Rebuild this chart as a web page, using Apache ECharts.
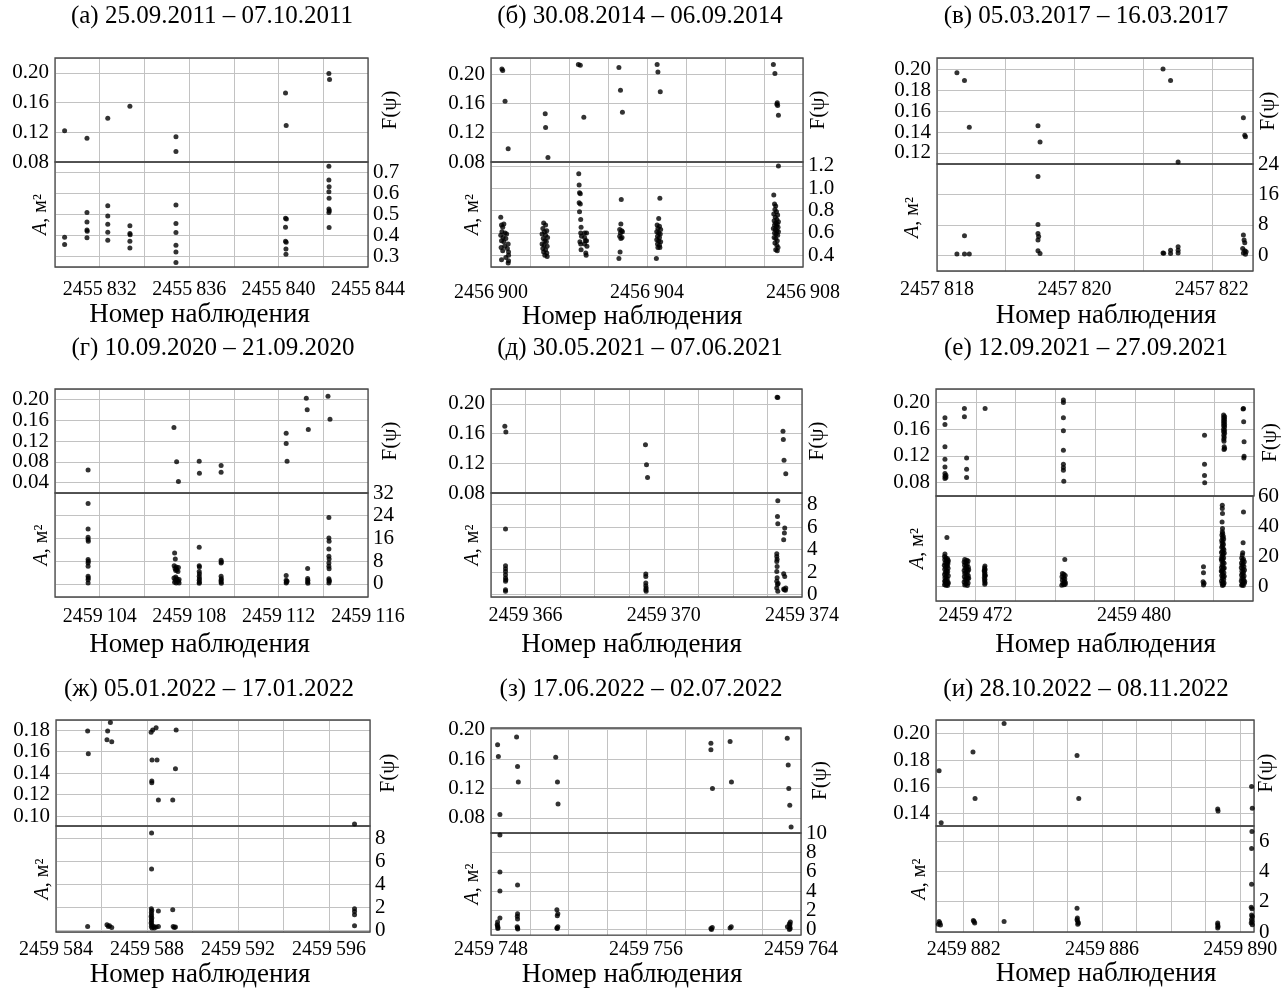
<!DOCTYPE html>
<html><head><meta charset="utf-8">
<script src="https://cdn.jsdelivr.net/npm/echarts@6/dist/echarts.min.js"></script>
<style>html,body{margin:0;padding:0;background:#fff}#c{width:1282px;height:989px}</style>
</head><body><div id="c"></div>
<script>
const FONT = '"Liberation Serif","Times New Roman",serif';

const titles = ['(а) 25.09.2011 – 07.10.2011','(б) 30.08.2014 – 06.09.2014','(в) 05.03.2017 – 16.03.2017',
  '(г) 10.09.2020 – 21.09.2020','(д) 30.05.2021 – 07.06.2021','(е) 12.09.2021 – 27.09.2021',
  '(ж) 05.01.2022 – 17.01.2022','(з) 17.06.2022 – 02.07.2022','(и) 28.10.2022 – 08.11.2022'];

// ---- (а)
const xTicksA = [2455832,2455836,2455840,2455844];
const fTicksA = [0.08,0.12,0.16,0.20];
const aTicksA = [0.3,0.4,0.5,0.6,0.7];
const fA = [[2455830.43,0.122],[2455831.43,0.112],[2455832.36,0.139],[2455833.35,0.155],[2455835.41,0.114],[2455835.41,0.094],[2455840.31,0.173],[2455840.34,0.129],[2455842.25,0.199],[2455842.28,0.191]];
const aA = [[2455830.43,0.392],[2455830.43,0.357],
 [2455831.43,0.509],[2455831.43,0.464],[2455831.43,0.426],[2455831.44,0.420],[2455831.43,0.389],
 [2455832.36,0.542],[2455832.36,0.493],[2455832.36,0.453],[2455832.36,0.415],[2455832.36,0.377],
 [2455833.35,0.447],[2455833.35,0.409],[2455833.36,0.403],[2455833.35,0.373],[2455833.35,0.340],
 [2455835.41,0.545],[2455835.41,0.457],[2455835.41,0.414],[2455835.41,0.354],[2455835.41,0.322],[2455835.41,0.272],
 [2455840.31,0.482],[2455840.35,0.479],[2455840.31,0.439],[2455840.31,0.373],[2455840.34,0.368],[2455840.33,0.336],[2455840.33,0.311],
 [2455842.25,0.730],[2455842.25,0.664],[2455842.26,0.632],[2455842.25,0.608],[2455842.26,0.577],[2455842.25,0.526],[2455842.27,0.518],[2455842.25,0.509],[2455842.26,0.438]];

// ---- (б)
const xTicksB = [2456900,2456904,2456908];
const fTicksB = [0.08,0.12,0.16,0.20];
const aTicksB = [0.4,0.6,0.8,1.0,1.2];
const fB = [[2456900.28,0.207],[2456900.30,0.205],[2456900.36,0.163],[2456900.44,0.098],
 [2456901.39,0.146],[2456901.40,0.127],[2456901.46,0.086],
 [2456902.24,0.213],[2456902.29,0.212],[2456902.38,0.141],
 [2456903.28,0.209],[2456903.32,0.178],[2456903.37,0.148],
 [2456904.26,0.213],[2456904.28,0.203],[2456904.34,0.176],
 [2456907.24,0.213],[2456907.28,0.201],[2456907.34,0.161],[2456907.33,0.159],[2456907.35,0.157],[2456907.37,0.144]];
const aB = [[2456900.25,0.74],[2456900.27,0.67],[2456900.30,0.65],[2456900.33,0.68],[2456900.28,0.61],[2456900.25,0.58],[2456900.31,0.56],[2456900.36,0.60],[2456900.40,0.59],[2456900.27,0.53],[2456900.33,0.52],[2456900.38,0.55],[2456900.44,0.50],[2456900.26,0.47],[2456900.35,0.48],[2456900.42,0.46],[2456900.30,0.44],[2456900.45,0.43],[2456900.27,0.36],[2456900.38,0.38],[2456900.45,0.40],[2456900.45,0.35],[2456900.44,0.33],
 [2456901.35,0.69],[2456901.40,0.67],[2456901.33,0.64],[2456901.43,0.62],[2456901.37,0.61],[2456901.31,0.59],[2456901.40,0.58],[2456901.45,0.56],[2456901.34,0.55],[2456901.38,0.53],[2456901.42,0.52],[2456901.31,0.50],[2456901.36,0.49],[2456901.44,0.48],[2456901.33,0.46],[2456901.40,0.45],[2456901.35,0.43],[2456901.43,0.42],[2456901.38,0.40],[2456901.44,0.39],
 [2456902.25,1.13],[2456902.26,1.03],[2456902.27,0.96],[2456902.29,0.95],[2456902.26,0.87],[2456902.29,0.86],[2456902.27,0.79],[2456902.30,0.72],[2456902.31,0.65],[2456902.30,0.60],[2456902.32,0.57],[2456902.28,0.52],[2456902.30,0.50],[2456902.31,0.45],[2456902.40,0.60],[2456902.40,0.56],[2456902.42,0.53],[2456902.40,0.50],[2456902.43,0.42],[2456902.45,0.60],[2456902.45,0.53],[2456902.46,0.48],[2456902.44,0.40],
 [2456903.34,0.90],[2456903.33,0.68],[2456903.30,0.63],[2456903.35,0.62],[2456903.32,0.60],[2456903.37,0.61],[2456903.30,0.57],[2456903.36,0.56],[2456903.33,0.55],[2456903.31,0.43],[2456903.28,0.37],
 [2456904.33,0.91],[2456904.30,0.73],[2456904.26,0.67],[2456904.32,0.66],[2456904.28,0.64],[2456904.35,0.63],[2456904.25,0.61],[2456904.30,0.60],[2456904.34,0.59],[2456904.27,0.57],[2456904.32,0.56],[2456904.25,0.54],[2456904.30,0.53],[2456904.35,0.52],[2456904.27,0.50],[2456904.32,0.49],[2456904.28,0.47],[2456904.33,0.47],[2456904.24,0.37],
 [2456907.37,1.20],[2456907.25,0.94],[2456907.27,0.86],[2456907.30,0.84],[2456907.28,0.81],[2456907.32,0.79],[2456907.25,0.77],[2456907.35,0.76],[2456907.29,0.74],[2456907.33,0.72],[2456907.26,0.71],[2456907.37,0.70],[2456907.30,0.69],[2456907.34,0.68],[2456907.27,0.67],[2456907.32,0.66],[2456907.36,0.65],[2456907.24,0.64],[2456907.29,0.63],[2456907.33,0.62],[2456907.37,0.61],[2456907.27,0.60],[2456907.31,0.59],[2456907.35,0.58],[2456907.26,0.56],[2456907.30,0.55],[2456907.34,0.53],[2456907.28,0.51],[2456907.33,0.49],[2456907.36,0.47],[2456907.30,0.45],[2456907.34,0.44]];

// ---- (в)
const xTicksC = [2457818,2457820,2457822];
const fTicksC = [0.12,0.14,0.16,0.18,0.20];
const aTicksC = [0,8,16,24];
const fC = [[2457818.29,0.1965],[2457818.40,0.189],[2457818.47,0.1445],[2457819.47,0.146],[2457819.50,0.1305],[2457821.29,0.200],[2457821.40,0.189],[2457821.51,0.1115],[2457822.46,0.1535],[2457822.48,0.137],[2457822.49,0.1355]];
const aC = [[2457818.29,0.35],[2457818.40,5.1],[2457818.40,0.35],[2457818.47,0.35],[2457819.47,20.7],[2457819.47,8.1],[2457819.47,5.7],[2457819.48,4.9],[2457819.47,4.0],[2457819.47,1.15],[2457819.50,0.44],[2457821.29,0.6],[2457821.30,0.5],[2457821.40,1.3],[2457821.40,0.44],[2457821.51,2.2],[2457821.51,1.3],[2457821.51,0.6],[2457822.46,5.3],[2457822.47,4.0],[2457822.48,3.3],[2457822.45,1.8],[2457822.48,1.15],[2457822.46,0.6],[2457822.49,0.26],[2457822.50,0.9]];

// ---- (г)
const xTicksD = [2459104,2459108,2459112,2459116];
const fTicksD = [0.04,0.08,0.12,0.16,0.20];
const aTicksD = [0,8,16,24,32];
const fD = [[2459103.48,0.064],[2459107.32,0.146],[2459107.44,0.080],[2459107.52,0.042],[2459108.45,0.081],[2459108.46,0.058],[2459109.43,0.073],[2459109.43,0.060],[2459112.34,0.135],[2459112.34,0.115],[2459112.38,0.081],[2459113.24,0.202],[2459113.28,0.180],[2459113.33,0.142],[2459114.21,0.206],[2459114.30,0.162]];
const aD = [[2459103.48,28.3],[2459103.48,19.3],[2459103.48,16.4],[2459103.48,15.6],[2459103.49,15.0],[2459103.48,8.6],[2459103.49,8.0],[2459103.48,7.4],[2459103.48,6.2],[2459103.48,2.7],[2459103.49,2.1],[2459103.48,1.5],[2459103.48,0.35],
 [2459107.35,10.9],[2459107.38,8.8],[2459107.33,6.4],[2459107.42,6.0],[2459107.37,5.4],[2459107.45,5.0],[2459107.40,4.7],[2459107.50,4.4],[2459107.32,2.1],[2459107.45,1.8],[2459107.38,1.3],[2459107.52,0.9],[2459107.35,0.6],[2459107.42,0.35],[2459107.55,1.6],[2459107.55,0.3],[2459107.52,5.8],[2459107.40,2.4],
 [2459108.45,12.9],[2459108.45,6.4],[2459108.46,6.0],[2459108.45,4.4],[2459108.46,3.6],[2459108.45,2.7],[2459108.46,1.9],[2459108.45,1.3],[2459108.46,0.6],[2459108.45,0.2],
 [2459109.43,8.3],[2459109.44,7.7],[2459109.43,7.4],[2459109.43,2.7],[2459109.44,1.8],[2459109.43,1.3],[2459109.43,0.7],[2459109.44,0.2],
 [2459112.34,3.0],[2459112.34,1.3],[2459112.35,0.7],[2459112.34,0.35],[2459112.38,0.9],
 [2459113.30,5.4],[2459113.30,1.9],[2459113.31,1.3],[2459113.30,0.7],[2459113.31,0.2],
 [2459114.25,23.4],[2459114.25,16.2],[2459114.26,15.0],[2459114.25,12.3],[2459114.25,9.7],[2459114.26,8.8],[2459114.25,7.4],[2459114.25,6.2],[2459114.26,5.3],[2459114.25,1.8],[2459114.26,1.3],[2459114.25,0.35],[2459114.27,0.9]];

// ---- (д)
const xTicksE = [2459366,2459370,2459374];
const fTicksE = [0.08,0.12,0.16,0.20];
const aTicksE = [0,2,4,6,8];
const fE = [[2459365.40,0.170],[2459365.43,0.162],[2459369.47,0.145],[2459369.50,0.118],[2459369.53,0.101],[2459373.28,0.209],[2459373.30,0.2085],[2459373.45,0.163],[2459373.46,0.152],[2459373.48,0.124],[2459373.53,0.106]];
const aE = [[2459365.42,5.84],[2459365.42,2.58],[2459365.42,2.31],[2459365.42,2.07],[2459365.42,1.78],[2459365.42,1.48],[2459365.43,1.33],[2459365.42,1.19],[2459365.42,0.44],[2459365.42,0.30],
 [2459369.48,1.84],[2459369.48,1.63],[2459369.48,1.04],[2459369.48,0.80],[2459369.49,0.59],[2459369.48,0.44],[2459369.49,0.30],
 [2459373.30,8.36],[2459373.29,6.96],[2459373.30,6.31],[2459373.50,5.93],[2459373.49,5.48],[2459373.47,4.89],[2459373.27,3.64],[2459373.27,3.40],[2459373.28,3.15],[2459373.27,2.95],[2459373.28,2.52],[2459373.27,2.07],[2459373.47,1.87],[2459373.50,1.63],[2459373.28,1.50],[2459373.27,1.20],[2459373.29,0.90],[2459373.27,0.60],[2459373.49,0.44],[2459373.52,0.40],[2459373.53,0.60],[2459373.30,0.30],[2459373.47,0.50],[2459373.31,1.00]];

// ---- (е)
const xTicksF = [2459472,2459480];
const fTicksF = [0.08,0.12,0.16,0.20];
const aTicksF = [0,20,40,60];
const fF = [[2459470.45,0.177],[2459470.45,0.167],[2459470.45,0.1335],[2459470.45,0.115],[2459470.45,0.1035],[2459470.45,0.0935],[2459470.45,0.0895],[2459470.45,0.086],[2459470.50,0.091],[2459470.50,0.0875],
 [2459471.43,0.191],[2459471.43,0.1785],[2459471.54,0.117],[2459471.54,0.100],[2459471.54,0.0875],[2459472.47,0.191],
 [2459476.41,0.2035],[2459476.41,0.200],[2459476.41,0.177],[2459476.41,0.1575],[2459476.41,0.1285],[2459476.41,0.1075],[2459476.41,0.1025],[2459476.41,0.0985],[2459476.43,0.082],
 [2459483.51,0.151],[2459483.51,0.1075],[2459483.51,0.0905],[2459483.52,0.080],
 [2459484.47,0.181],[2459484.52,0.179],[2459484.47,0.177],[2459484.52,0.175],[2459484.47,0.173],[2459484.52,0.171],[2459484.47,0.169],[2459484.52,0.167],[2459484.47,0.165],[2459484.52,0.163],[2459484.47,0.160],[2459484.52,0.158],[2459484.47,0.156],[2459484.52,0.154],[2459484.48,0.151],[2459484.50,0.148],[2459484.48,0.145],[2459484.49,0.142],[2459484.50,0.1335],[2459484.49,0.1295],[2459484.52,0.131],
 [2459485.47,0.191],[2459485.45,0.190],[2459485.48,0.171],[2459485.50,0.141],[2459485.50,0.1195],[2459485.49,0.117]];
const aF = [[2459470.55,32.3],[2459470.45,21.3],[2459470.43,19.6],[2459470.50,18.9],[2459470.58,18.2],[2459470.44,17.5],[2459470.52,16.8],[2459470.60,16.1],[2459470.46,15.4],[2459470.54,14.6],[2459470.42,13.9],[2459470.57,13.2],[2459470.48,12.5],[2459470.61,11.8],[2459470.44,11.1],[2459470.53,10.4],[2459470.59,9.7],[2459470.47,9.0],[2459470.55,8.3],[2459470.43,7.6],[2459470.62,6.9],[2459470.50,6.2],[2459470.45,5.5],[2459470.57,4.8],[2459470.52,4.1],[2459470.44,3.4],[2459470.60,2.7],[2459470.48,2.0],[2459470.55,1.4],[2459470.43,0.8],[2459470.58,0.3],[2459470.50,0.5],[2459470.62,1.9],[2459470.46,3.0],[2459470.60,14.8],[2459470.62,17.0],
 [2459471.45,17.7],[2459471.55,17.2],[2459471.62,16.6],[2459471.42,16.0],[2459471.50,15.3],[2459471.58,14.6],[2459471.44,13.9],[2459471.53,13.2],[2459471.63,12.5],[2459471.47,11.8],[2459471.56,11.1],[2459471.42,10.4],[2459471.60,9.7],[2459471.50,9.0],[2459471.45,8.3],[2459471.57,7.6],[2459471.63,6.9],[2459471.43,6.2],[2459471.52,5.5],[2459471.60,4.8],[2459471.47,4.1],[2459471.55,3.4],[2459471.42,2.7],[2459471.62,2.0],[2459471.50,1.3],[2459471.45,0.6],[2459471.58,0.3],[2459471.65,10.8],[2459471.65,5.2],
 [2459472.47,13.3],[2459472.45,12.1],[2459472.48,11.0],[2459472.44,9.9],[2459472.47,8.8],[2459472.45,7.7],[2459472.48,6.6],[2459472.44,5.5],[2459472.47,4.4],[2459472.45,3.3],[2459472.48,2.2],[2459472.46,1.2],[2459472.44,10.5],[2459472.48,7.2],
 [2459476.50,17.7],[2459476.38,8.4],[2459476.45,7.9],[2459476.52,7.0],[2459476.36,6.2],[2459476.44,5.5],[2459476.50,4.6],[2459476.38,3.8],[2459476.47,3.0],[2459476.53,2.3],[2459476.40,1.6],[2459476.46,0.9],[2459476.35,0.5],[2459476.52,1.2],
 [2459483.50,12.8],[2459483.50,8.9],[2459483.48,2.9],[2459483.53,1.8],[2459483.50,0.7],
 [2459484.45,53.8],[2459484.45,51.6],[2459484.46,48.3],[2459484.44,42.7],[2459484.46,38.3],[2459484.45,36.1],[2459484.47,35.0],
 [2459484.43,34.0],[2459484.50,33.1],[2459484.46,32.2],[2459484.52,31.3],[2459484.42,30.4],[2459484.48,29.5],[2459484.44,28.6],[2459484.51,27.7],[2459484.46,26.8],[2459484.42,25.9],[2459484.49,25.0],[2459484.53,24.1],[2459484.45,23.2],[2459484.41,22.3],[2459484.50,21.4],[2459484.47,20.5],[2459484.43,19.6],[2459484.52,18.7],[2459484.46,17.8],[2459484.42,16.9],[2459484.49,16.0],[2459484.54,15.1],[2459484.44,14.2],[2459484.48,13.3],[2459484.41,12.4],[2459484.51,11.5],[2459484.46,10.6],[2459484.43,9.7],[2459484.53,8.8],[2459484.47,7.9],[2459484.42,7.0],[2459484.50,6.1],[2459484.45,5.2],[2459484.52,4.3],[2459484.41,3.4],[2459484.48,2.5],[2459484.44,1.6],[2459484.51,0.8],[2459484.46,0.3],[2459484.54,2.0],[2459484.55,6.5],[2459484.40,10.0],[2459484.55,12.0],[2459484.40,18.0],[2459484.55,22.0],
 [2459485.52,49.4],[2459485.50,28.8],[2459485.48,22.2],[2459485.46,20.6],[2459485.43,18.6],[2459485.52,17.9],[2459485.47,17.0],[2459485.56,16.2],[2459485.42,15.4],[2459485.50,14.6],[2459485.45,13.8],[2459485.54,13.0],[2459485.41,12.2],[2459485.49,11.4],[2459485.57,10.6],[2459485.44,9.8],[2459485.52,9.0],[2459485.47,8.2],[2459485.42,7.4],[2459485.55,6.6],[2459485.49,5.8],[2459485.44,5.0],[2459485.53,4.2],[2459485.41,3.4],[2459485.48,2.6],[2459485.56,1.8],[2459485.45,1.0],[2459485.51,0.4],[2459485.58,3.0],[2459485.43,0.5]];

// ---- (ж)
const xTicksG = [2459584,2459588,2459592,2459596];
const fTicksG = [0.10,0.12,0.14,0.16,0.18];
const aTicksG = [0,2,4,6,8];
const fG = [[2459585.39,0.179],[2459585.42,0.158],[2459586.27,0.179],[2459586.39,0.187],[2459586.24,0.171],[2459586.45,0.169],[2459588.18,0.178],[2459588.25,0.180],[2459588.40,0.182],[2459588.22,0.152],[2459588.44,0.152],[2459588.21,0.1325],[2459588.21,0.131],[2459588.50,0.115],[2459589.13,0.115],[2459589.25,0.144],[2459589.28,0.180],[2459597.12,0.0925]];
const aG = [[2459585.39,0.35],[2459586.24,0.49],[2459586.30,0.35],[2459586.45,0.26],[2459586.35,0.40],
 [2459588.20,8.5],[2459588.20,5.35],[2459588.19,1.88],[2459588.21,1.73],[2459588.19,1.56],[2459588.20,1.36],[2459588.18,1.21],[2459588.21,1.07],[2459588.19,0.92],[2459588.20,0.78],[2459588.18,0.64],[2459588.21,0.49],[2459588.19,0.35],[2459588.22,0.20],[2459588.30,0.35],[2459588.32,0.20],[2459588.40,0.30],
 [2459588.50,1.70],[2459588.50,0.35],[2459589.13,1.79],[2459589.15,0.35],[2459589.25,0.30],[2459589.20,0.25],
 [2459597.12,1.88],[2459597.12,1.65],[2459597.12,1.36],[2459597.12,0.40]];

// ---- (з)
const xTicksH = [2459748,2459756,2459764];
const fTicksH = [0.08,0.12,0.16,0.20];
const aTicksH = [0,2,4,6,8,10];
const fH = [[2459748.34,0.1794],[2459748.38,0.1634],[2459748.46,0.0846],[2459749.32,0.190],[2459749.37,0.150],[2459749.41,0.129],[2459751.34,0.1625],[2459751.43,0.129],[2459751.46,0.099],[2459759.35,0.1817],[2459759.35,0.1726],[2459759.43,0.120],[2459760.34,0.184],[2459760.41,0.129],[2459763.29,0.1885],[2459763.34,0.152],[2459763.37,0.120],[2459763.42,0.0973],[2459763.49,0.0677]];
const aH = [[2459748.46,9.83],[2459748.46,5.99],[2459748.46,4.0],[2459748.46,1.2],[2459748.34,0.79],[2459748.34,0.4],[2459748.36,0.2],[2459748.32,0.5],[2459748.35,0.1],
 [2459749.37,4.62],[2459749.37,1.64],[2459749.36,1.37],[2459749.37,1.1],[2459749.37,0.17],[2459749.38,0.05],[2459749.35,0.3],
 [2459751.40,2.05],[2459751.45,1.64],[2459751.42,1.44],[2459751.40,0.17],[2459751.45,0.3],[2459751.42,0.1],
 [2459759.35,0.1],[2459759.42,0.2],[2459759.38,0.0],[2459760.34,0.17],[2459760.40,0.3],
 [2459763.45,0.79],[2459763.43,0.51],[2459763.42,0.27],[2459763.44,0.1],[2459763.40,0.0],[2459763.40,0.6],[2459763.30,0.3]];

// ---- (и)
const xTicksI = [2459882,2459886,2459890];
const fTicksI = [0.14,0.16,0.18,0.20];
const aTicksI = [0,2,4,6];
const fI = [[2459881.29,0.172],[2459881.35,0.1333],[2459882.27,0.186],[2459882.33,0.1513],[2459883.17,0.2073],[2459885.28,0.1835],[2459885.33,0.1513],[2459889.35,0.1435],[2459889.36,0.142],[2459890.33,0.1603],[2459890.35,0.144]];
const aI = [[2459881.29,0.70],[2459881.31,0.59],[2459881.27,0.52],[2459881.33,0.46],[2459882.28,0.76],[2459882.30,0.70],[2459882.32,0.59],[2459883.17,0.70],
 [2459885.28,1.57],[2459885.29,0.92],[2459885.28,0.81],[2459885.30,0.70],[2459885.32,0.59],[2459885.30,0.52],
 [2459889.35,0.59],[2459889.35,0.48],[2459889.36,0.37],[2459889.35,0.26],
 [2459890.34,6.63],[2459890.33,5.52],[2459890.33,3.16],[2459890.32,1.64],[2459890.34,1.53],[2459890.33,1.13],[2459890.35,1.03],[2459890.33,0.85],[2459890.34,0.70],[2459890.32,0.59],[2459890.35,0.48]];

const panels = [
 {f:fA,a:aA,xt:xTicksA,ft:fTicksA,at:aTicksA},{f:fB,a:aB,xt:xTicksB,ft:fTicksB,at:aTicksB},{f:fC,a:aC,xt:xTicksC,ft:fTicksC,at:aTicksC},
 {f:fD,a:aD,xt:xTicksD,ft:fTicksD,at:aTicksD},{f:fE,a:aE,xt:xTicksE,ft:fTicksE,at:aTicksE},{f:fF,a:aF,xt:xTicksF,ft:fTicksF,at:aTicksF},
 {f:fG,a:aG,xt:xTicksG,ft:fTicksG,at:aTicksG},{f:fH,a:aH,xt:xTicksH,ft:fTicksH,at:aTicksH},{f:fI,a:aI,xt:xTicksI,ft:fTicksI,at:aTicksI}];

// layout: box [left,right,top,divider,bottom], title centre, axis ranges [min,max,step]
const layout = [
 {box:[55,368,58,162,267], tx:212, ty:16, x:[2455830,2455844,2], f:[0.08,0.22,0.04], a:[0.25,0.75,0.1], ad:1, gA:4, gF:12, lm:13, ng:34, ns:-12},
 {box:[491,803,58,162,267], tx:640, ty:16, x:[2456900,2456908,1], f:[0.08,0.222,0.04], a:[0.295,1.235,0.2], ad:1, gA:8, gF:5, lm:16, ng:36, ns:-15},
 {box:[937,1253,58,164,271], tx:1086, ty:16, x:[2457818,2457822.6,1], f:[0.1095,0.2105,0.02], a:[-4.15,24,8], ad:0, gA:14, gF:5, lm:9, ng:31, ns:11},
 {box:[55,368,389,493,597], tx:213, ty:348, x:[2459102,2459116,2], f:[0.02,0.22,0.04], a:[-4.6,32,8], ad:0, gA:3, gF:12, lm:10, ng:34, ns:-12},
 {box:[491,802,389,493,597], tx:640, ty:348, x:[2459365,2459374,1], f:[0.08,0.22,0.04], a:[-0.2,9.04,2], ad:0, gA:8, gF:5, lm:9, ng:34, ns:-15},
 {box:[936,1254,389,496,601], tx:1086, ty:348, x:[2459470,2459486,2], f:[0.06,0.22,0.04], a:[-10,60,20], ad:0, gA:8, gF:6, lm:5, ng:30, ns:11},
 {box:[56,370,720,826,932], tx:209, ty:689, x:[2459584,2459597.8,2], f:[0.0907,0.1893,0.02], a:[-0.14,9.1,2], ad:0, gA:3, gF:8, lm:8, ng:29, ns:-13},
 {box:[491,801,728,833,936], tx:641, ty:689, x:[2459748,2459764,2], f:[0.0595,0.2023,0.04], a:[-0.58,10.03,2], ad:0, gA:8, gF:9, lm:5, ng:25, ns:-14},
 {box:[936,1254,720,826,932], tx:1086, ty:689, x:[2459881.2,2459890.4,1], f:[0.1308,0.21,0.02], a:[0,7,2], ad:0, gA:6, gF:2, lm:8, ng:28, ns:11}
];

const W = 1282;
const has = (list, v, tol) => list.some(t => Math.abs(t - v) < tol);
const jdLabel = v => { const s = String(Math.round(v)); return s.slice(0,4) + '\u2009' + s.slice(4); };
const grid = [], xAxis = [], yAxis = [], series = [], graphic = [];
const split = () => ({show:true, lineStyle:{color:'#c2c2c2', width:1}});
const noAxis = () => ({axisLine:{show:false}, axisTick:{show:false}});

layout.forEach((L, p) => {
  const P = panels[p];
  const [l, r, t, d, b] = L.box;
  const gb = () => ({left:l, right:W - r, show:true, z:1, borderColor:'#4a4a4a', borderWidth:1.3, backgroundColor:'rgba(0,0,0,0)', containLabel:false});
  grid.push(Object.assign({top:t, height:d - t}, gb()));
  grid.push(Object.assign({top:d, height:b - d}, gb()));
  const bx = () => Object.assign({type:'value', min:L.x[0], max:L.x[1], minInterval:L.x[2], maxInterval:L.x[2], splitLine:split()}, noAxis());
  xAxis.push(Object.assign({gridIndex:2*p, axisLabel:{show:false}}, bx()));
  const pad = L.ns < 0 ? [0, -2*L.ns, 0, 0] : [0, 0, 0, 2*L.ns];
  xAxis.push(Object.assign({gridIndex:2*p+1,
    axisLabel:{show:true, showMinLabel:true, showMaxLabel:true, margin:L.lm, fontFamily:FONT, fontSize:20, color:'#000', formatter:v => has(P.xt, v, 1e-3) ? jdLabel(v) : ''},
    name:'Номер наблюдения', nameLocation:'middle', nameGap:L.ng, nameTextStyle:{fontFamily:FONT, fontSize:27, color:'#000', padding:pad}}, bx()));
  // upper: F(psi)
  yAxis.push(Object.assign({gridIndex:2*p, type:'value', position:'left', min:L.f[0], max:L.f[1], minInterval:L.f[2], maxInterval:L.f[2], splitLine:split(),
    axisLabel:{margin:6, lineHeight:16, fontFamily:FONT, fontSize:21, color:'#000', formatter:v => has(P.ft, v, 1e-6) ? v.toFixed(2) : ''}}, noAxis()));
  yAxis.push(Object.assign({gridIndex:2*p, type:'value', position:'right', min:0, max:1, axisLabel:{show:false}, splitLine:{show:false},
    name:'F(ψ)', nameLocation:'middle', nameRotate:90, nameGap:L.gF, nameTextStyle:{fontFamily:FONT, fontSize:21, color:'#000'}}, noAxis()));
  // lower: A
  yAxis.push(Object.assign({gridIndex:2*p+1, type:'value', position:'right', min:L.a[0], max:L.a[1], minInterval:L.a[2], maxInterval:L.a[2], splitLine:split(),
    axisLabel:{margin:5, lineHeight:16, fontFamily:FONT, fontSize:21, color:'#000', formatter:v => has(P.at, v, 1e-6) ? v.toFixed(L.ad) : ''}}, noAxis()));
  yAxis.push(Object.assign({gridIndex:2*p+1, type:'value', position:'left', min:0, max:1, axisLabel:{show:false}, splitLine:{show:false},
    name:'{i|A}, м²', nameLocation:'middle', nameRotate:90, nameGap:L.gA,
    nameTextStyle:{fontFamily:FONT, fontSize:20, color:'#000', rich:{i:{fontFamily:FONT, fontSize:20, fontStyle:'italic', color:'#000'}}}}, noAxis()));
  const sym = () => ({type:'scatter', symbol:'circle', symbolSize:5, itemStyle:{color:'#000'}, silent:true, z:3});
  series.push(Object.assign({xAxisIndex:2*p, yAxisIndex:4*p, data:P.f}, sym()));
  series.push(Object.assign({xAxisIndex:2*p+1, yAxisIndex:4*p+2, data:P.a}, sym()));
  graphic.push({type:'text', x:L.tx, y:L.ty, style:{text:titles[p], fontFamily:FONT, fontSize:25, fill:'#000', align:'center', verticalAlign:'middle'}});
});

const chart = echarts.init(document.getElementById('c'), null, {renderer:'canvas'});
chart.setOption({animation:false, backgroundColor:'#fff', grid, xAxis, yAxis, series, graphic});
</script></body></html>
